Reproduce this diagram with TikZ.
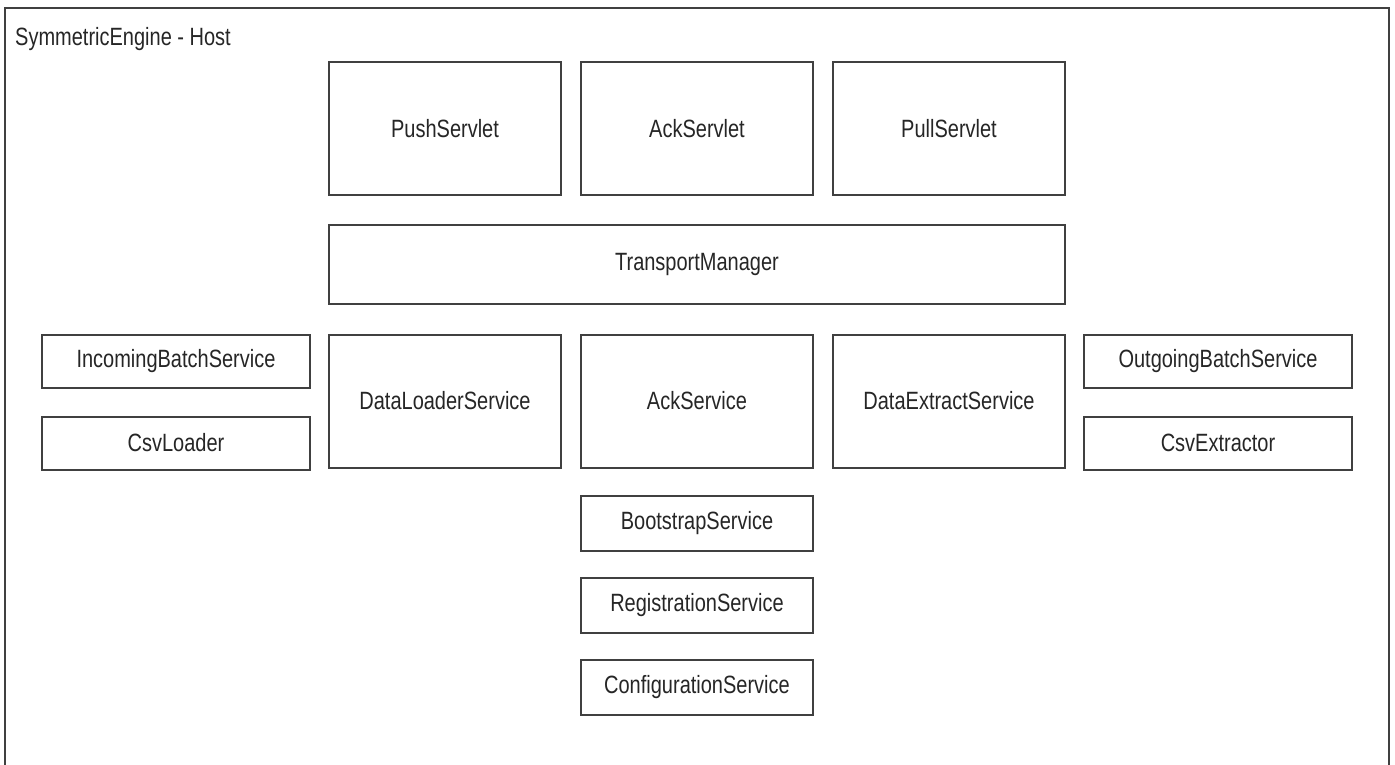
\documentclass[tikz,border=0pt]{standalone}
\usepackage{fontspec}
\setmainfont{Liberation Sans}[FakeStretch=0.8]
\tikzset{
  label font/.style={font=\fontsize{25}{29}\selectfont, text=black!85},
  box/.style={draw=black!75, line width=2pt, fill=white, inner sep=0pt, label font},
  bigbox/.style={box, minimum width=232pt, minimum height=133pt},
  smallbox/.style={box, minimum width=268pt, minimum height=53pt},
  midbox/.style={box, minimum width=232pt, minimum height=55pt},
  frame/.style={draw=black!75, line width=2.5pt}
}
\begin{document}
\begin{tikzpicture}[x=1pt, y=-1pt]
  \useasboundingbox (0,0) rectangle (1395,764);
  % host container, open at the bottom edge
  \draw[frame] (5,766) -- (5,8) -- (1389,8) -- (1389,766);
  \node[anchor=base west, label font, inner sep=0pt] (title) at (15,45) {SymmetricEngine - Host};

  % servlets
  \node[bigbox] (push) at (445,128.5) {PushServlet};
  \node[bigbox] (ackservlet) at (697,128.5) {AckServlet};
  \node[bigbox] (pull) at (949,128.5) {PullServlet};

  % transport
  \node[box, minimum width=736pt, minimum height=79pt] (transport) at (697,264.5) {TransportManager};

  % services
  \node[smallbox] (incoming) at (176,361) {IncomingBatchService};
  \node[smallbox] (csvloader) at (176,443) {CsvLoader};
  \node[bigbox] (dataloader) at (445,401) {DataLoaderService};
  \node[bigbox] (ackservice) at (697,401) {AckService};
  \node[bigbox] (dataextract) at (949,401) {DataExtractService};
  \node[smallbox] (outgoing) at (1218,361) {OutgoingBatchService};
  \node[smallbox] (csvextractor) at (1218,443) {CsvExtractor};

  \node[midbox] (bootstrap) at (697,523.5) {BootstrapService};
  \node[midbox] (registration) at (697,605) {RegistrationService};
  \node[midbox] (configuration) at (697,687) {ConfigurationService};
\end{tikzpicture}
\end{document}
